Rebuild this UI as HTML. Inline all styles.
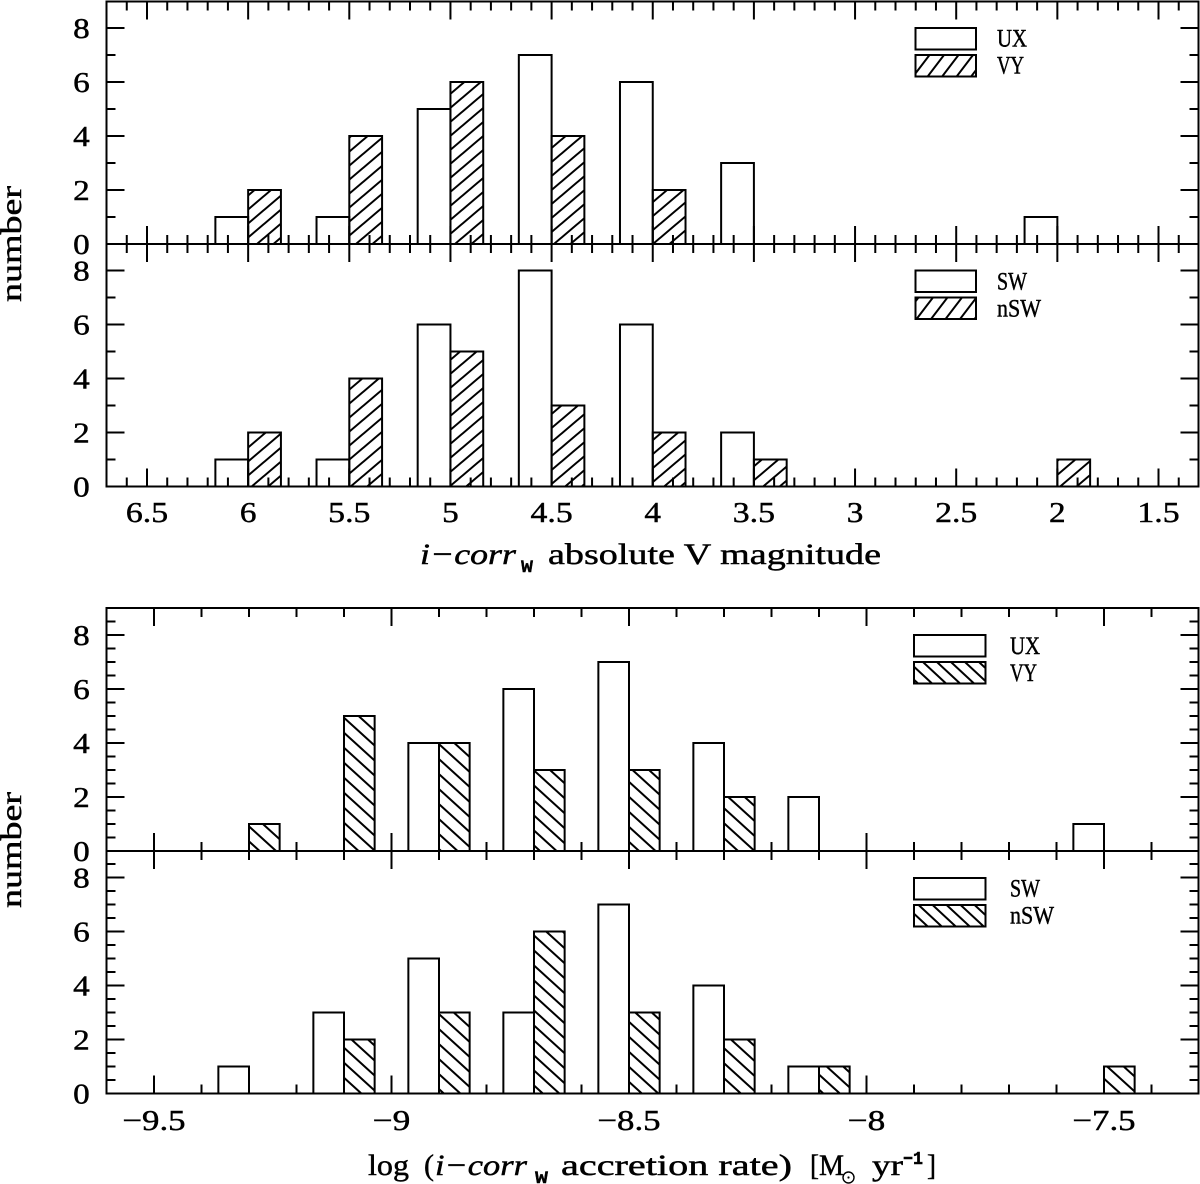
<!DOCTYPE html>
<html>
<head>
<meta charset="utf-8">
<title>Histograms of absolute V magnitude and accretion rate</title>
<style>
html,body{margin:0;padding:0;background:#fff;}
svg{display:block;}
text{fill:#000;font-family:"Liberation Serif",serif;stroke:#000;stroke-width:0.45px;}
.num{font-size:29px;}
.leg{font-size:25.5px;}
.ttl{font-size:30px;}
.ital{font-size:30px;font-style:italic;}
.sub{font-family:"Liberation Mono",monospace;font-size:21px;font-weight:bold;}
.sup{font-family:"Liberation Mono",monospace;font-size:18px;font-weight:bold;}
.swatch{stroke:#000;stroke-width:2;}
</style>
</head>
<body>
<svg id="chart" xmlns="http://www.w3.org/2000/svg" width="1200" height="1184" viewBox="0 0 1200 1184">
<defs>
<pattern id="hatch-up" patternUnits="userSpaceOnUse" width="16.5" height="14">
<path d="M-2,1.7 L2,-1.7 M0,14 L16.5,0 M14.5,15.7 L18.5,12.3" stroke="#000" stroke-width="2"/>
</pattern>
<pattern id="hatch-down" patternUnits="userSpaceOnUse" width="16.5" height="15">
<path d="M-2,13.2 L2,16.8 M0,0 L16.5,15 M14.5,-1.8 L18.5,1.8" stroke="#000" stroke-width="2"/>
</pattern>
<pattern id="legend-hatch-up" patternUnits="userSpaceOnUse" width="14.5" height="19">
<path d="M-2,2.6 L2,-2.6 M0,19 L14.5,0 M12.5,21.6 L16.5,16.4" stroke="#000" stroke-width="2"/>
</pattern>
<pattern id="legend-hatch-down" patternUnits="userSpaceOnUse" width="14" height="13">
<path d="M-2,11.1 L2,14.9 M0,0 L14,13 M12,-1.9 L16,1.9" stroke="#000" stroke-width="2"/>
</pattern>
</defs>

<g id="marks"></g>
<g id="axes"></g>

<g>
<rect class="swatch" x="915.5" y="28" width="60.5" height="21.5" fill="#fff"/>
<rect class="swatch" x="915.5" y="55" width="60.5" height="21.5" fill="url(#legend-hatch-up)"/>
<text class="leg" x="997" y="46.5" textLength="30" lengthAdjust="spacingAndGlyphs">UX</text>
<text class="leg" x="997" y="73.5" textLength="27" lengthAdjust="spacingAndGlyphs">VY</text>
</g>
<g>
<rect class="swatch" x="915.5" y="270.5" width="60.5" height="21.5" fill="#fff"/>
<rect class="swatch" x="915.5" y="297.5" width="60.5" height="21.5" fill="url(#legend-hatch-up)"/>
<text class="leg" x="997" y="289.5" textLength="30" lengthAdjust="spacingAndGlyphs">SW</text>
<text class="leg" x="997" y="316.5" textLength="44" lengthAdjust="spacingAndGlyphs">nSW</text>
</g>
<g>
<rect class="swatch" x="914" y="635" width="71.5" height="21.5" fill="#fff"/>
<rect class="swatch" x="914" y="662" width="71.5" height="21.5" fill="url(#legend-hatch-down)"/>
<text class="leg" x="1010" y="654" textLength="30" lengthAdjust="spacingAndGlyphs">UX</text>
<text class="leg" x="1010" y="681" textLength="27" lengthAdjust="spacingAndGlyphs">VY</text>
</g>
<g>
<rect class="swatch" x="914" y="878" width="71.5" height="21.5" fill="#fff"/>
<rect class="swatch" x="914" y="905" width="71.5" height="21.5" fill="url(#legend-hatch-down)"/>
<text class="leg" x="1010" y="896.5" textLength="30" lengthAdjust="spacingAndGlyphs">SW</text>
<text class="leg" x="1010" y="923.5" textLength="44" lengthAdjust="spacingAndGlyphs">nSW</text>
</g>

<text class="ttl" transform="translate(21,302) rotate(-90)" x="0" y="0" textLength="116" lengthAdjust="spacingAndGlyphs">number</text>
<text class="ttl" transform="translate(21,908) rotate(-90)" x="0" y="0" textLength="116" lengthAdjust="spacingAndGlyphs">number</text>

<g>
<text class="ital" x="420" y="564" textLength="96" lengthAdjust="spacingAndGlyphs">i−corr</text>
<text class="sub" x="521" y="572" textLength="12" lengthAdjust="spacingAndGlyphs">w</text>
<text class="ttl" x="548" y="564" textLength="333" lengthAdjust="spacingAndGlyphs">absolute V magnitude</text>
</g>
<g>
<text class="ttl" x="368" y="1175" textLength="41" lengthAdjust="spacingAndGlyphs">log</text>
<text class="ttl" x="424" y="1175" textLength="10" lengthAdjust="spacingAndGlyphs">(</text>
<text class="ital" x="435" y="1175" textLength="92" lengthAdjust="spacingAndGlyphs">i−corr</text>
<text class="sub" x="535" y="1183" textLength="13" lengthAdjust="spacingAndGlyphs">w</text>
<text class="ttl" x="561" y="1175" textLength="231" lengthAdjust="spacingAndGlyphs">accretion rate)</text>
<text class="ttl" x="810" y="1175" textLength="9" lengthAdjust="spacingAndGlyphs">[</text>
<text class="ttl" x="819" y="1175" textLength="25" lengthAdjust="spacingAndGlyphs">M</text>
<circle cx="848.5" cy="1177.5" r="5.5" fill="none" stroke="#000" stroke-width="1.4"/>
<circle cx="848.5" cy="1177.5" r="1.1" fill="#000"/>
<text class="ttl" x="872" y="1175" textLength="31" lengthAdjust="spacingAndGlyphs">yr</text>
<text class="sup" x="903" y="1164" textLength="20" lengthAdjust="spacingAndGlyphs">−1</text>
<text class="ttl" x="927" y="1175" textLength="9" lengthAdjust="spacingAndGlyphs">]</text>
</g>
</svg>

<script>
var magBins = [6, 5.5, 5, 4.5, 4, 3.5, 2];
var uxMag = [1, 1, 5, 7, 6, 3, 1];
var vyMag = [2, 4, 6, 4, 2, 0, 0];
var swMag = [1, 1, 6, 8, 6, 2, 0];
var nswMag = [2, 4, 5, 3, 2, 1, 1];

var rateBins = [-9.3, -9.1, -8.9, -8.7, -8.5, -8.3, -8.1, -7.5];
var uxRate = [0, 0, 4, 6, 7, 4, 2, 1];
var vyRate = [1, 5, 4, 3, 3, 2, 0, 0];
var swRate = [1, 3, 5, 3, 7, 4, 1, 0];
var nswRate = [0, 2, 3, 6, 3, 2, 1, 1];

var magTickLabels = ["6.5", "6", "5.5", "5", "4.5", "4", "3.5", "3", "2.5", "2", "1.5"];
var rateTickLabels = ["−9.5", "−9", "−8.5", "−8", "−7.5"];
var countTickLabels = ["0", "2", "4", "6", "8"];

var NS = "http://www.w3.org/2000/svg";
var marks = document.getElementById("marks");
var axes = document.getElementById("axes");
var LEFT = 106.5, RIGHT = 1198.5;

function xMag(v) { return 147 + (6.5 - v) * 202.3; }
function xRate(v) { return 391.5 + (v + 9) * 475; }
function makeY(zero) { return function (v) { return zero - v * 27; }; }

function line(x1, y1, x2, y2, w) {
  var l = document.createElementNS(NS, "line");
  l.setAttribute("x1", x1);
  l.setAttribute("y1", y1);
  l.setAttribute("x2", x2);
  l.setAttribute("y2", y2);
  l.setAttribute("stroke", "#000");
  l.setAttribute("stroke-width", w || 2);
  
  
  axes.appendChild(l);
  return l;
}

function label(str, cx, baseline) {
  var len = 0;
  for (var i = 0; i < str.length; i++) {
    len += str[i] === "." ? 9 : (str[i] === "−" ? 21 : 16.6);
  }
  var t = document.createElementNS(NS, "text");
  t.setAttribute("class", "num");
  t.setAttribute("x", cx - len / 2);
  t.setAttribute("y", baseline);
  t.setAttribute("textLength", len);
  t.setAttribute("lengthAdjust", "spacingAndGlyphs");
  
  
  t.textContent = str;
  axes.appendChild(t);
}

function bars(bins, values, xFn, yFn, width, side, fill, name) {
  bins.forEach(function (b, i) {
    var v = values[i];
    if (!v) return;
    var a = side < 0 ? xFn(b - width * xDir(xFn)) : xFn(b);
    var c = side < 0 ? xFn(b) : xFn(b + width * xDir(xFn));
    var r = document.createElementNS(NS, "rect");
    r.setAttribute("x", a);
    r.setAttribute("y", yFn(v));
    r.setAttribute("width", c - a);
    r.setAttribute("height", yFn(0) - yFn(v));
    r.setAttribute("fill", fill);
    r.setAttribute("stroke", "#000");
    r.setAttribute("stroke-width", "2");
    
    
    marks.appendChild(r);
  });
}
function xDir(xFn) { return xFn(1) > xFn(0) ? 1 : -1; }

function panel(cfg) {
  var y = makeY(cfg.zero);
  bars(cfg.bins, cfg.a, cfg.x, y, cfg.width, -1, "#fff", cfg.nameA);
  bars(cfg.bins, cfg.b, cfg.x, y, cfg.width, 1, cfg.hatch, cfg.nameB);

  // frame
  line(LEFT, cfg.top, RIGHT, cfg.top);
  line(LEFT, cfg.zero, RIGHT, cfg.zero);
  line(LEFT, cfg.top - 1, LEFT, cfg.zero + 1);
  line(RIGHT, cfg.top - 1, RIGHT, cfg.zero + 1);

  // y ticks, major every 2 counts
  var n = Math.round(9 / cfg.yMinor);
  for (var i = 1; i < n; i++) {
    var v = i * cfg.yMinor;
    var len = (v % 2 === 0) ? 18 : 9;
    line(LEFT, y(v), LEFT + len, y(v));
    line(RIGHT - len, y(v), RIGHT, y(v));
  }
  countTickLabels.forEach(function (s) {
    label(s, 81.5, y(+s) + 10);
  });

  // x ticks
  for (var k = cfg.tickStart; k <= cfg.tickEnd; k++) {
    var xp = cfg.x(k / 10);
    var major = k % 5 === 0;
    var L = major ? 18 : 9;
    line(xp, cfg.top, xp, cfg.top + L);
    line(xp, cfg.zero, xp, cfg.zero - L);
  }
}

panel({ bins: magBins, a: uxMag, b: vyMag, x: xMag, zero: 244, top: 1.5, width: 0.162, yMinor: 1, hatch: "url(#hatch-up)", nameA: "bar-ux-magnitude", nameB: "bar-vy-magnitude", tickStart: 14, tickEnd: 66 });
panel({ bins: magBins, a: swMag, b: nswMag, x: xMag, zero: 486.5, top: 244, width: 0.162, yMinor: 1, hatch: "url(#hatch-up)", nameA: "bar-sw-magnitude", nameB: "bar-nsw-magnitude", tickStart: 14, tickEnd: 66 });
panel({ bins: rateBins, a: uxRate, b: vyRate, x: xRate, zero: 851, top: 608, width: 0.0645, yMinor: 0.5, hatch: "url(#hatch-down)", nameA: "bar-ux-rate", nameB: "bar-vy-rate", tickStart: -95, tickEnd: -74 });
panel({ bins: rateBins, a: swRate, b: nswRate, x: xRate, zero: 1093.5, top: 851, width: 0.0645, yMinor: 0.5, hatch: "url(#hatch-down)", nameA: "bar-sw-rate", nameB: "bar-nsw-rate", tickStart: -95, tickEnd: -74 });

magTickLabels.forEach(function (s) {
  label(s, xMag(+s), 522);
});
rateTickLabels.forEach(function (s) {
  label(s, xRate(-parseFloat(s.slice(1))), 1130);
});
</script>
</body>
</html>
